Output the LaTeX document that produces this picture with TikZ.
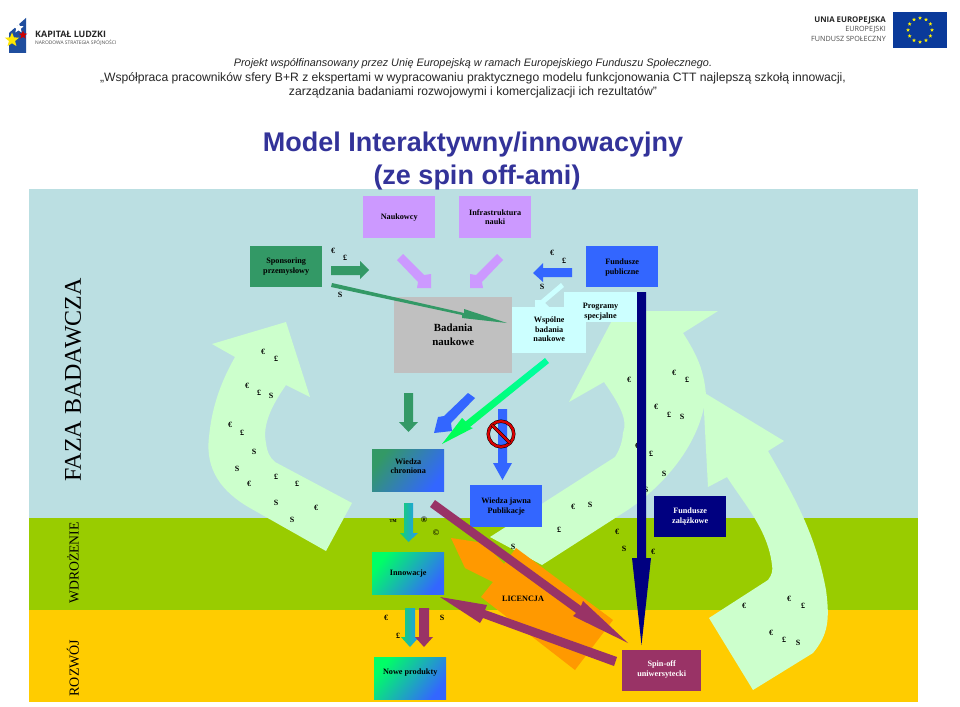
\documentclass[tikz,border=0pt]{standalone}
\usepackage{fontspec}
\setmainfont{Liberation Serif}
\newfontfamily\hdfont{Liberation Sans}
\newfontfamily\logofont{Open Sans}
\usetikzlibrary{shapes.geometric}
\definecolor{bgteal}{HTML}{BBDFE2}
\definecolor{bggreen}{HTML}{99CC00}
\definecolor{bgyellow}{HTML}{FFCC00}
\definecolor{lgreen}{HTML}{CCFFCC}
\definecolor{lpurple}{HTML}{CC99FF}
\definecolor{dgreen}{HTML}{339966}
\definecolor{pblue}{HTML}{3366FF}
\definecolor{navy}{HTML}{000080}
\definecolor{lcyan}{HTML}{CCFFFF}
\definecolor{plum}{HTML}{993366}
\definecolor{orng}{HTML}{FF9900}
\definecolor{grey}{HTML}{C0C0C0}
\definecolor{ttl}{HTML}{333399}
\definecolor{sprg}{HTML}{00FF66}
\definecolor{flagb}{HTML}{1F4E9E}
\definecolor{eub}{HTML}{0A3A9A}
\tikzset{
 lbl/.style={font=\fontsize{8.2}{9.8}\selectfont\bfseries,align=center,text=black},
 boxn/.style={lbl,inner sep=0pt,anchor=north west},
 cur/.style={font=\fontsize{8}{9}\selectfont\bfseries,inner sep=0pt,text=black},
 hdr/.style={font=\hdfont\fontsize{12.15}{14}\selectfont,text=black!85,inner sep=0pt},
 ttlst/.style={font=\hdfont\fontsize{27}{30}\selectfont\bfseries,text=ttl,inner sep=0pt},
 side/.style={rotate=90,inner sep=0pt,text=black},
 logob/.style={font=\logofont\bfseries,inner sep=0pt,text=black!85},
 logor/.style={font=\logofont,inner sep=0pt,text=black!70},
 gradbox/.style={boxn,minimum width=72pt,minimum height=42pt,shading=axis,left color=#1,right color=pblue,shading angle=52},
}
\newcommand{\bx}[6]{% name, x1,y1,x2,y2, options
 \node[boxn,minimum width=#4 pt - #2 pt,minimum height=#5 pt - #3 pt,#6] (#1) at (#2,#3) {};}
\begin{document}
\begin{tikzpicture}[x=1pt,y=-1pt]
\useasboundingbox (0,0) rectangle (960,706);
\fill[white] (0,0) rectangle (960,706);
% bands
\fill[bgteal] (29,189) rectangle (918,518);
\fill[bggreen] (29,518) rectangle (918,610);
\fill[bgyellow] (29,610) rectangle (918,702);
% header
\node[hdr,font=\hdfont\itshape\fontsize{10.85}{13}\selectfont] (h1) at (473,64) {Projekt współfinansowany przez Unię Europejską w ramach Europejskiego Funduszu Społecznego.};
\node[hdr] (h2) at (473,78) {„Współpraca pracowników sfery B+R z ekspertami w wypracowaniu praktycznego modelu funkcjonowania CTT najlepszą szkołą innowacji,};
\node[hdr] (h3) at (473,92) {zarządzania badaniami rozwojowymi i komercjalizacji ich rezultatów”};
\node[ttlst] (t1) at (473,145) {Model Interaktywny/innowacyjny};
\node[ttlst] (t2) at (477,178) {(ze spin off-ami)};
% logos left
\fill[flagb] (26,18) -- (26,53) -- (9,53) -- (9,33) -- cycle;
\node[star,star points=5,star point ratio=2.3,fill=white,minimum size=11pt,inner sep=0pt] (s1) at (18.5,28) {};
\node[star,star points=5,star point ratio=2.3,fill=red!80!black,minimum size=9pt,inner sep=0pt] (s2) at (23,35) {};
\node[star,star points=5,star point ratio=2.3,fill=yellow!90!orange,minimum size=15pt,inner sep=0pt] (s3) at (12,40) {};
\node[logob,anchor=west,font=\logofont\bfseries\fontsize{8.9}{10}\selectfont] (kl) at (35,34.5) {KAPITAŁ LUDZKI};
\node[logor,anchor=west,font=\logofont\fontsize{4.9}{6}\selectfont] (kl2) at (35,42.5) {NARODOWA STRATEGIA SPÓJNOŚCI};
% EU
\fill[eub] (893,12) rectangle (947,48);
\foreach \a [count=\i] in {0,30,...,330}
 \node[star,star points=5,star point ratio=2.3,fill=yellow,minimum size=4pt,inner sep=0pt,name=eus\i] at ({920+12*cos(\a)},{30+12*sin(\a)}) {};
\node[logob,anchor=east,font=\logofont\bfseries\fontsize{7.85}{9}\selectfont] (eu1) at (886,20) {UNIA EUROPEJSKA};
\node[logor,anchor=east,font=\logofont\fontsize{7.2}{8}\selectfont] (eu2) at (886,30) {EUROPEJSKI};
\node[logor,anchor=east,font=\logofont\fontsize{7.2}{8}\selectfont] (eu3) at (886,39) {FUNDUSZ SPOŁECZNY};
% side labels
\node[side,font=\fontsize{24}{26}\selectfont] (fb) at (73,380) {FAZA BADAWCZA};
\node[side,font=\fontsize{13.7}{15}\selectfont] (wd) at (73,563) {WDROŻENIE};
\node[side,font=\fontsize{14}{16}\selectfont] (rz) at (73,668) {ROZWÓJ};
% big light arrows
\fill[lgreen] (326,551) -- (250,508) .. controls (222,492) and (205,470) .. (209,437) .. controls (212,405) and (222,380) .. (235,357) -- (212,344) -- (286,322) -- (310,397) -- (286,385) .. controls (272,405) and (262,425) .. (266,443) .. controls (267,452) and (270,458) .. (275,462) -- (352,503) -- cycle;
\fill[lgreen] (542,565) -- (623,513) .. controls (655,493) and (700,450) .. (706,395) .. controls (704,370) and (697,355) .. (683,333) -- (718,311) -- (617,311) -- (569,402) -- (604,382) .. controls (620,405) and (628,420) .. (623,433) .. controls (622,445) and (618,452) .. (615,457) -- (490,537) -- cycle;
\fill[lgreen] (753,690) -- (709,618) -- (768,580) .. controls (772,575) and (773,570) .. (772,565) .. controls (768,530) and (745,505) .. (727,477) -- (708,487) -- (703,392) -- (784,441) -- (768,451) .. controls (790,490) and (815,530) .. (826,590) .. controls (830,620) and (828,635) .. (813,653) -- cycle;
% boxes top
\bx{nauk}{363}{196}{435}{238}{fill=lpurple}
\node[lbl] at (nauk) {Naukowcy};
\bx{infra}{459}{196}{531}{238}{fill=lpurple}
\node[lbl] at (infra) {Infrastruktura\\nauki};
\bx{spons}{250}{246}{322}{287}{fill=dgreen}
\node[lbl] at (spons) {Sponsoring\\przemysłowy};
\bx{fpub}{586}{246}{658}{287}{fill=pblue}
\node[lbl] at ([yshift=-0.5pt]fpub) {Fundusze\\publiczne};
\bx{bad}{394}{297}{512}{373}{fill=grey}
\node[lbl,font=\fontsize{10.9}{14}\selectfont\bfseries] at (bad) {Badania\\naukowe};
\bx{wsp}{512}{307}{586}{353}{fill=lcyan}
\node[lbl] at ([yshift=1pt]wsp) {Wspólne\\badania\\naukowe};
\bx{prog}{564}{292}{637}{322}{fill=lcyan}
\node[lbl,anchor=center] at (600.5,311.5) {Programy\\specjalne};
% small top arrows
\fill[dgreen] (331,266) -- (360,266) -- (360,261) -- (369,270) -- (360,279) -- (360,275) -- (331,275) -- cycle;
\fill[dgreen] (331,287) -- (332,283) -- (464,313) -- (464,309) -- (507,323) -- (462,318) -- (462,315) -- cycle;
\fill[lpurple] (397,260) -- (403,254) -- (424,275) -- (431,274) -- (431,288) -- (417,288) -- (418,282) -- cycle;
\fill[lpurple] (503,260) -- (497,254) -- (476,275) -- (470,274) -- (470,288) -- (483,288) -- (482,282) -- cycle;
\fill[pblue] (572,268) -- (572,277) -- (543,277) -- (543,282) -- (533,273) -- (543,263) -- (543,268) -- cycle;
\fill[lcyan] (561,283) -- (564,287) -- (545,303) -- (549,307) -- (535,307) -- (535,300) -- (541,300) -- cycle;
% arrows to Wiedza
\fill[dgreen] (404,393) -- (413,393) -- (413,422) -- (418,422) -- (408.5,432) -- (399,422) -- (404,422) -- cycle;
\fill[pblue] (468,393) -- (475,398) -- (451,423) -- (452,431) -- (434,433) -- (438,417) -- (444,416) -- cycle;
\shade[left color=cyan!35!sprg,right color=sprg!85!green,shading angle=-51] (545,358) -- (549,363) -- (470,427) -- (473,428) -- (442,444) -- (462,418) -- (465.5,421.5) -- cycle;
\fill[pblue] (498,409) -- (507,409) -- (507,463) -- (512,463) -- (502.5,480) -- (493,463) -- (498,463) -- cycle;
% no sign
\draw[black,line width=3.4pt] (501,434) circle (12.8);
\draw[red!85!black,line width=2.4pt] (501,434) circle (12.8);
\draw[black,line width=3.4pt] (492,425) -- (510,443);
\draw[red!85!black,line width=2.4pt] (492,425) -- (510,443);
% lower boxes
\node[gradbox=dgreen] (wch) at (372,449) {};
\node[lbl] at ([yshift=4pt]wch) {Wiedza\\chroniona};
\bx{wja}{470}{485}{542}{527}{fill=pblue}
\node[lbl] at (wja) {Wiedza jawna\\Publikacje};
\bx{fzal}{654}{496}{726}{537}{fill=navy}
\node[lbl,text=white] at (fzal) {Fundusze\\zalążkowe};
\node[gradbox=sprg] (inn) at (372,552) {};
\node[lbl] at (inn) {Innowacje};
\node[gradbox=sprg] (nowe) at (374,657) {};
\node[lbl] at ([yshift=6pt]nowe) {Nowe produkty};
\bx{spin}{622}{650}{701}{691}{fill=plum}
\node[lbl,text=white] at ([yshift=1pt]spin) {Spin-off\\uniwersytecki};
% small gradient arrows
\shade[left color=sprg!60!dgreen,right color=pblue!70!cyan] (404,503) -- (413,503) -- (413,533) -- (418,533) -- (408.5,542) -- (400,533) -- (404,533) -- cycle;
\shade[left color=sprg!60!dgreen,right color=pblue!70!cyan] (405,608) -- (415,608) -- (415,637) -- (419,637) -- (410,647) -- (401,637) -- (405,637) -- cycle;
\fill[plum] (419,608) -- (429,608) -- (429,637) -- (433,637) -- (424,647) -- (415,637) -- (419,637) -- cycle;
% currency under navy
\foreach \x/\y/\t [count=\i] in {637/446/€,646/490/S}
 \node[cur,name=ca\i] at (\x,\y) {\t};
% licence arrow
\fill[orng] (451,538) -- (484,543) -- (504,564) -- (516,548) -- (613,620) -- (575,670) -- (481,597) -- (493,582) -- (465,568) -- cycle;
\node[cur,font=\fontsize{8.2}{10}\selectfont\bfseries] (lic) at (523,599) {LICENCJA};
% navy bar
\fill[navy] (637,292) -- (646,292) -- (646,558) -- (651,558) -- (641.5,645) -- (632,558) -- (637,558) -- cycle;
% plum arrows
\fill[plum] (435,500) -- (581,606) -- (583,601) -- (628,643) -- (573,616) -- (576,613) -- (430,507) -- cycle;
\fill[plum] (617,657) -- (614,666) -- (483,618) -- (480,623) -- (440,597) -- (487,605) -- (485,610) -- cycle;
% currency
\foreach \x/\y/\t [count=\i] in {263/352/€,276/359/£,247/386/€,259/393/£,271/396/S,230/425/€,242/433/£,254/452/S,237/469/S,249/484/€,276/477/£,297/484/£,276/503/S,292/520/S,316/508/€,333/251/€,345/258/£,340/295/S,552/253/€,564/261/£,542/287/S,629/380/€,674/373/€,687/380/£,656/407/€,669/415/£,682/417/S,651/454/£,664/474/S,573/507/€,590/505/S,559/530/£,617/532/€,624/549/S,653/552/€,513/547/S,386/618/€,442/618/S,398/636/£,744/606/€,789/599/€,803/606/£,771/633/€,784/640/£,798/643/S}
 \node[cur,name=cb\i] at (\x,\y) {\t};
\node[cur,font=\fontsize{7.5}{8}\selectfont\bfseries] (tm) at (393,522) {™};
\node[cur,font=\fontsize{8.5}{9}\selectfont\bfseries] (rg) at (424,520) {®};
\node[cur,font=\fontsize{8.5}{9}\selectfont\bfseries] (cp) at (436,533) {©};
\end{tikzpicture}
\end{document}
